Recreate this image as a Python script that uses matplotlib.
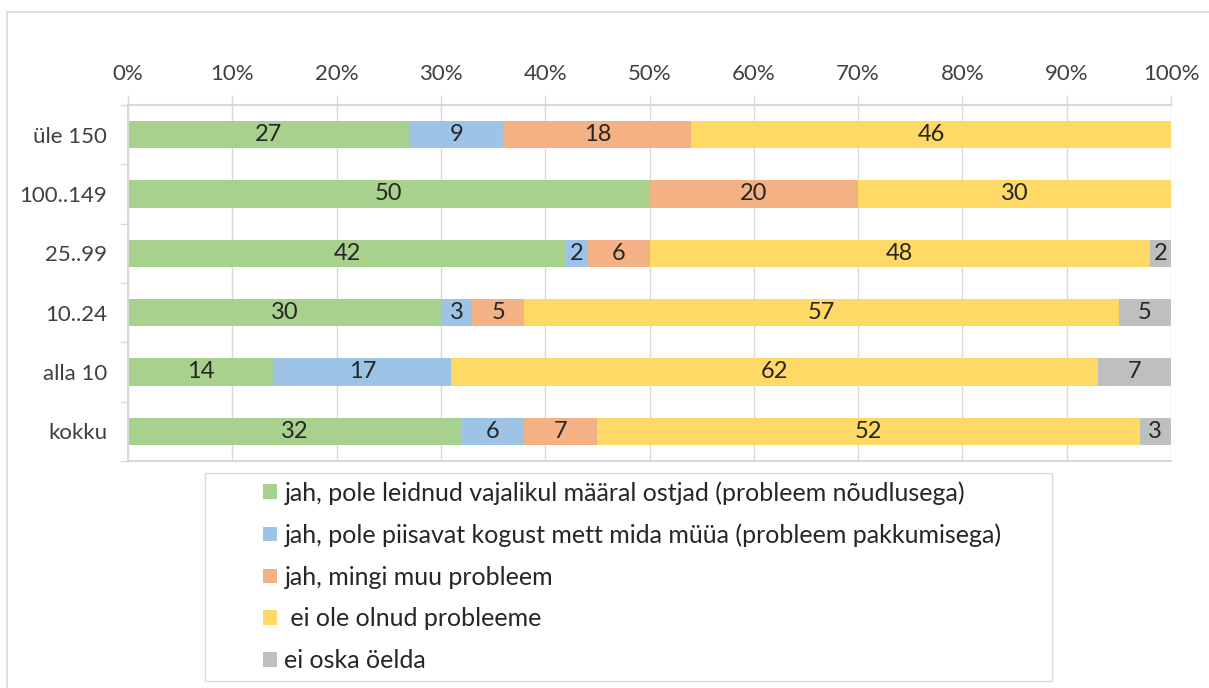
import numpy as np
import matplotlib

matplotlib.use("Agg")
import matplotlib.pyplot as plt
from matplotlib.patches import Rectangle

plt.rcParams["font.family"] = ["Lato", "DejaVu Sans"]

# Data (percent), top to bottom as in the chart
categories = ["üle 150", "100..149", "25..99", "10..24", "alla 10", "kokku"]
demand_problem = [27, 50, 42, 30, 14, 32]
supply_problem = [9, 0, 2, 3, 17, 6]
other_problem = [18, 20, 6, 5, 0, 7]
no_problem = [46, 30, 48, 57, 62, 52]
dont_know = [0, 0, 2, 5, 7, 3]

series_labels = [
    "jah, pole leidnud vajalikul määral ostjad (probleem nõudlusega)",
    "jah, pole piisavat kogust mett mida müüa (probleem pakkumisega)",
    "jah, mingi muu probleem",
    " ei ole olnud probleeme",
    "ei oska öelda",
]
colors = ["#A9D18E", "#9DC3E6", "#F4B183", "#FFD966", "#BFBFBF"]
x_ticks = [0, 10, 20, 30, 40, 50, 60, 70, 80, 90, 100]

W, H = 1209, 688
fig = plt.figure(figsize=(W / 100, H / 100), dpi=100)

# outer chart border
fig.patches.append(Rectangle((7 / W, -0.01), 1.2, 1 - 12 / H + 0.01,
                             transform=fig.transFigure, fill=False,
                             edgecolor="#D9D9D9", linewidth=1.2))

ax = fig.add_axes([128 / W, 1 - 461 / H, (1171 - 128) / W, (461 - 105) / H])

series = [demand_problem, supply_problem, other_problem, no_problem, dont_know]
y = np.arange(len(categories))
left = np.zeros(len(categories))
for vals, col, lab in zip(series, colors, series_labels):
    vals = np.array(vals, dtype=float)
    bars = ax.barh(y, vals, left=left, height=0.46, color=col, label=lab, zorder=2)
    for b, v in zip(bars, vals):
        if v > 0:
            ax.text(b.get_x() + b.get_width() / 2, b.get_y() + b.get_height() / 2,
                    f"{int(v)}", ha="center", va="center", fontsize=17,
                    color="#262626", zorder=3)
    left += vals

ax.set_xlim(0, 100)
ax.set_ylim(len(categories) - 0.5, -0.5)

ax.xaxis.tick_top()
ax.set_xticks(x_ticks)
ax.set_xticklabels([f"{t}%" for t in x_ticks])
ax.tick_params(axis="x", which="major", length=7, width=1, color="#D9D9D9",
               labelsize=16, labelcolor="#404040", pad=8)

ax.set_yticks(y)
ax.set_yticklabels(categories)
ax.set_yticks(np.arange(-0.5, len(categories)), minor=True)
ax.tick_params(axis="y", which="major", length=0, labelsize=16,
               labelcolor="#404040", pad=15)
ax.tick_params(axis="y", which="minor", length=6, width=1, color="#D9D9D9")

ax.grid(axis="x", color="#D9D9D9", linewidth=1, zorder=0)
ax.set_axisbelow(True)
for side in ["top", "bottom", "left", "right"]:
    ax.spines[side].set_color("#D9D9D9")
    ax.spines[side].set_linewidth(1.5)
ax.spines["right"].set_visible(False)

# legend box drawn separately, entries placed inside it
fig.patches.append(Rectangle((205 / W, 1 - 681 / H), (1052 - 205) / W, (681 - 473) / H,
                             transform=fig.transFigure, fill=False,
                             edgecolor="#D9D9D9", linewidth=1))
leg = fig.legend(loc="upper left", bbox_to_anchor=(263 / W, 1 - 481 / H),
                 ncol=1, fontsize=18, frameon=False,
                 handlelength=0.56, handleheight=0.52, handletextpad=0.3,
                 labelspacing=0.75, borderpad=0, borderaxespad=0)
for t in leg.get_texts():
    t.set_color("#262626")

fig.savefig("out.png", dpi=100)
